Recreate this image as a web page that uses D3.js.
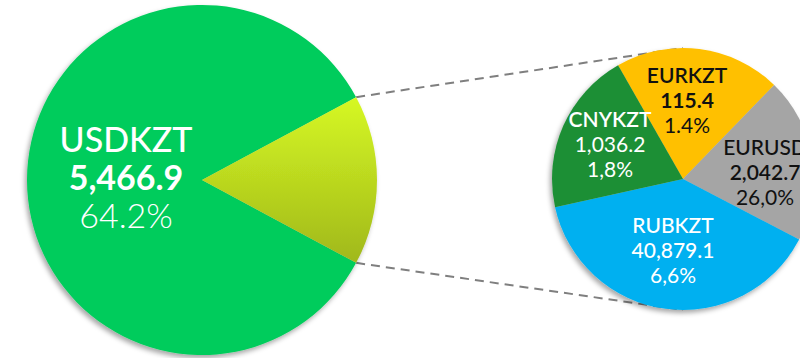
<!DOCTYPE html>
<html lang="en">
<head>
<meta charset="utf-8">
<title>pie of pie</title>
<script type="text/javascript" src="https://cdn.jsdelivr.net/npm/d3@7"></script>
<style type="text/css">
body { margin: 0; background: #fff; }
text { font-family: Lato, "Open Sans", sans-serif; }
</style>
</head>
<body>
<script type="text/javascript">
var w = 800;
var h = 358;

// main pie: USDKZT and the rest (drawn as the wedge)
var bigNames = ["USDKZT", "other"];
var bigShares = [84.3, 15.7];
var bigLabels = [["USDKZT", "5,466.9", "64.2%"]];

// second pie
var smallNames = ["EURKZT", "EURUSD", "RUBKZT", "CNYKZT"];
var smallShares = [20.5, 20.4, 38.9, 20.2];
var smallValues = ["115.4", "2,042.7", "40,879.1", "1,036.2"];
var smallPct = ["1.4%", "26,0%", "6,6%", "1,8%"];
var smallColors = ["#ffc000", "#a5a5a5", "#00b0f0", "#1e8f36"];
var smallText = ["#111", "#111", "#fff", "#fff"];
var nameWeight = [600, 500, 500, 600];
var valueWeight = [700, 600, 500, 400];

var big = {cx: 202, cy: 180, r: 175};
var small = {cx: 683, cy: 179, r: 131};

var rad = Math.PI / 180;
var bigStart = (90 + bigShares[1] / 100 * 180) * rad;
var smallStart = -29.7 * rad;

var svg = d3.select("body")
            .append("svg")
            .attr("width", w)
            .attr("height", h);

var defs = svg.append("defs");
var grad = defs.append("linearGradient")
               .attr("id", "wedge")
               .attr("x1", 0).attr("y1", 0).attr("x2", 0).attr("y2", 1);
grad.append("stop").attr("offset", "0%").attr("stop-color", "#d6f824");
grad.append("stop").attr("offset", "100%").attr("stop-color", "#a0b81a");

var shadow = defs.append("filter")
                 .attr("id", "shadow")
                 .attr("x", "-10%").attr("y", "-10%")
                 .attr("width", "120%").attr("height", "120%");
shadow.append("feDropShadow")
      .attr("dx", -2).attr("dy", 3)
      .attr("stdDeviation", 2.5)
      .attr("flood-color", "#000")
      .attr("flood-opacity", 0.35);

var bigPie = d3.pie().sort(null)
               .startAngle(bigStart)
               .endAngle(bigStart + 2 * Math.PI);
var smallPie = d3.pie().sort(null)
                 .startAngle(smallStart)
                 .endAngle(smallStart + 2 * Math.PI);

var bigArc = d3.arc().innerRadius(0).outerRadius(big.r);
var smallArc = d3.arc().innerRadius(0).outerRadius(small.r);

var bigData = bigPie(bigShares);
var smallData = smallPie(smallShares);

// connector lines: from the wedge edges to top / bottom of small pie
var wedge = bigData[1];
var ends = [
  [wedge.startAngle, small.cy - small.r],
  [wedge.endAngle, small.cy + small.r]
];
svg.selectAll("line.conn")
   .data(ends)
   .enter()
   .append("line")
   .attr("class", "conn")
   .attr("x1", function(d) { return big.cx + big.r * Math.sin(d[0]); })
   .attr("y1", function(d) { return big.cy - big.r * Math.cos(d[0]); })
   .attr("x2", small.cx)
   .attr("y2", function(d) { return d[1]; })
   .attr("stroke", "#7f7f7f")
   .attr("stroke-width", 2)
   .attr("stroke-dasharray", "9,6");

// big pie
var gBig = svg.append("g")
              .attr("transform", "translate(" + big.cx + "," + big.cy + ")")
              .attr("filter", "url(#shadow)");
gBig.selectAll("path")
    .data(bigData)
    .enter()
    .append("path")
    .attr("d", bigArc)
    .attr("fill", function(d, i) { return i == 0 ? "#00cc5b" : "url(#wedge)"; });

var bl = svg.append("g").attr("fill", "#fff").attr("text-anchor", "middle");
bl.append("text").attr("x", 126).attr("y", 152)
  .attr("font-size", "34px").attr("font-weight", 500).text(bigLabels[0][0]);
bl.append("text").attr("x", 126).attr("y", 190)
  .attr("font-size", "34px").attr("font-weight", 700).text(bigLabels[0][1]);
bl.append("text").attr("x", 126).attr("y", 228)
  .attr("font-size", "34px").attr("font-weight", 300).text(bigLabels[0][2]);

// small pie
var gSmall = svg.append("g")
                .attr("transform", "translate(" + small.cx + "," + small.cy + ")");
gSmall.append("g")
      .attr("filter", "url(#shadow)")
      .selectAll("path")
      .data(smallData)
      .enter()
      .append("path")
      .attr("d", smallArc)
      .attr("fill", function(d, i) { return smallColors[i]; });

// label anchors (offsets from small pie centre)
var labelPos = [[4, -96], [82, -24], [-10, 54], [-73, -52]];
var lab = gSmall.selectAll("g.lab")
                .data(smallData)
                .enter()
                .append("g")
                .attr("class", "lab")
                .attr("text-anchor", "middle")
                .attr("fill", function(d, i) { return smallText[i]; })
                .attr("transform", function(d, i) {
                  return "translate(" + labelPos[i][0] + "," + labelPos[i][1] + ")";
                });
lab.append("text").attr("y", 0).attr("font-size", "21px")
   .attr("font-weight", function(d, i) { return nameWeight[i]; })
   .text(function(d, i) { return smallNames[i]; });
lab.append("text").attr("y", 25).attr("font-size", "21px")
   .attr("font-weight", function(d, i) { return valueWeight[i]; })
   .text(function(d, i) { return smallValues[i]; });
lab.append("text").attr("y", 50).attr("font-size", "21px").attr("font-weight", 400)
   .text(function(d, i) { return smallPct[i]; });
</script>
</body>
</html>
